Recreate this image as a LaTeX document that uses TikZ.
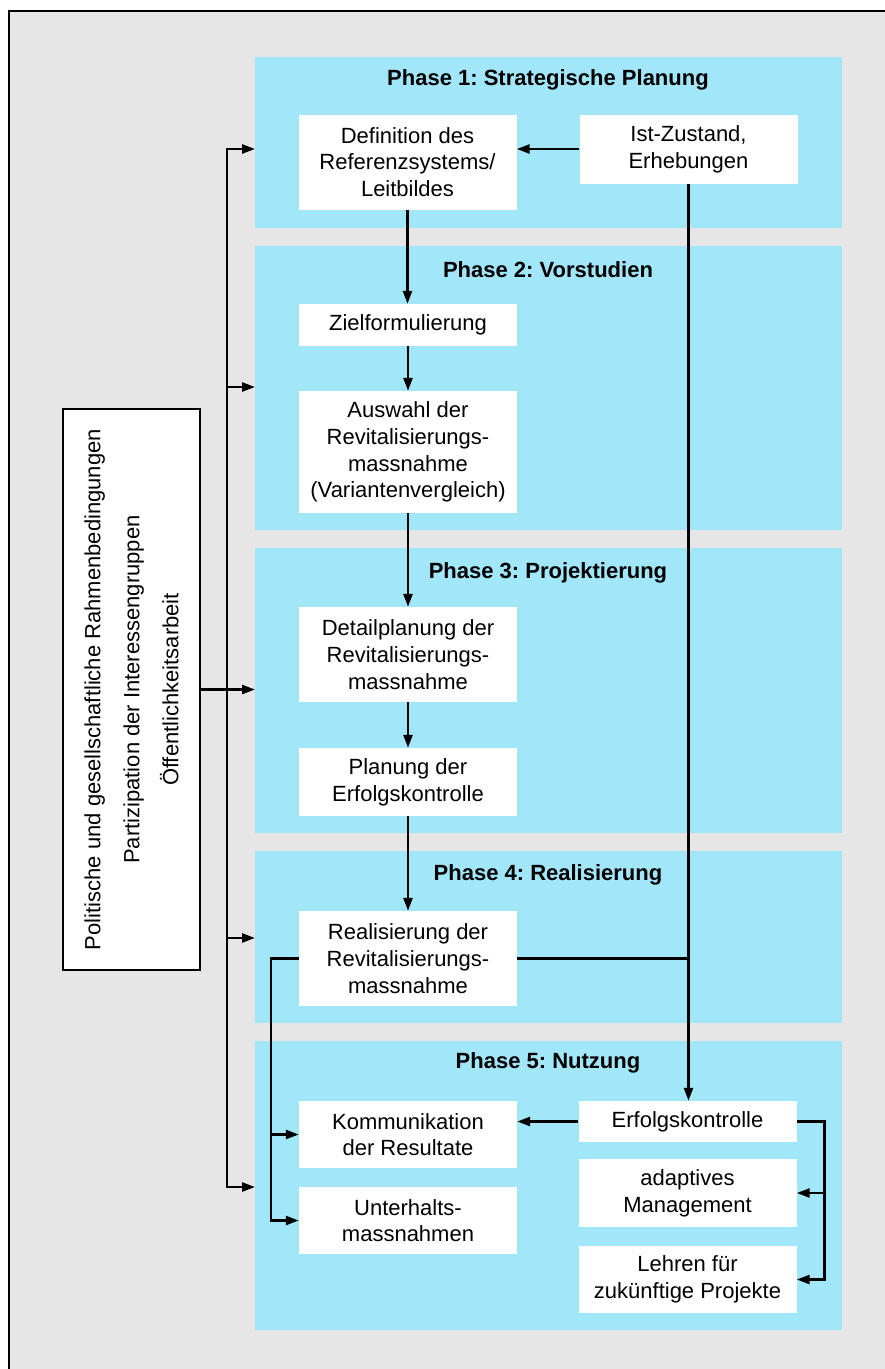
\documentclass[tikz,border=0pt]{standalone}
\usepackage{fontspec}
\setmainfont{Liberation Sans}
\usetikzlibrary{arrows.meta}
\definecolor{bandc}{HTML}{A2E6FA}
\definecolor{bgc}{HTML}{E6E6E6}
\frenchspacing
\begin{document}
\begin{tikzpicture}[x=1pt,y=-1pt,
  box/.style={fill=white, inner sep=0pt, minimum width=218pt, align=center,
    font=\fontsize{22}{26.7}\selectfont},
  band/.style={fill=bandc, draw=none, inner sep=0pt, anchor=north west, minimum width=587pt},
  ttl/.style={font=\bfseries\fontsize{22}{26}\selectfont, inner sep=0pt},
  con/.style={line width=2.5pt},
  tip/.style={-{Triangle[length=13pt,width=9pt]}},
  arr/.style={con, tip}]
\useasboundingbox (0,0) rectangle (885,1369);
\fill[bgc] (9,11) rectangle (885,1369);
\draw[line width=2.5pt] (9,1369) -- (9,11) -- (885,11);

% phase bands
\node[band, minimum height=171pt] (b1) at (255,57) {};
\node[band, minimum height=284pt] (b2) at (255,246) {};
\node[band, minimum height=285pt] (b3) at (255,548) {};
\node[band, minimum height=172pt] (b4) at (255,851) {};
\node[band, minimum height=289pt] (b5) at (255,1041) {};

% titles
\node[ttl] (t1) at (548,80) {Phase 1: Strategische Planung};
\node[ttl] (t2) at (548,270) {Phase 2: Vorstudien};
\node[ttl] (t3) at (548,573) {Phase 3: Projektierung};
\node[ttl] (t4) at (548,875) {Phase 4: Realisierung};
\node[ttl] (t5) at (548,1063) {Phase 5: Nutzung};

% boxes
\node[box, minimum height=95pt] (def) at (407.5,162) {Definition des\\Referenzsystems/\\Leitbildes};
\node[box, minimum height=69pt] (ist) at (688.5,149) {Ist-Zustand,\\Erhebungen};
\node[box, minimum height=42pt] (ziel) at (408,325) {Zielformulierung};
\node[box, minimum height=122pt] (ausw) at (408,452) {Auswahl der\\Revitalisierungs-\\massnahme\\(Variantenvergleich)};
\node[box, minimum height=95pt] (detail) at (408,654.5) {Detailplanung der\\Revitalisierungs-\\massnahme};
\node[box, minimum height=68pt] (plan) at (408,782) {Planung der\\Erfolgskontrolle};
\node[box, minimum height=95pt] (real) at (408,958.5) {Realisierung der\\Revitalisierungs-\\massnahme};
\node[box, minimum height=67pt] (komm) at (408,1134.5) {Kommunikation\\der Resultate};
\node[box, minimum height=67pt] (unter) at (408,1220.5) {Unterhalts-\\massnahmen};
\node[box, minimum height=41pt] (erfolg) at (687.5,1121.5) {Erfolgskontrolle};
\node[box, minimum height=68pt] (adapt) at (687.5,1193) {adaptives\\Management};
\node[box, minimum height=67pt] (lehren) at (687.5,1279.5) {Lehren für\\zukünftige Projekte};

% left box
\node[draw, line width=2.5pt, fill=white, minimum width=137pt, minimum height=561pt, inner sep=0pt] (lb) at (131.5,689.5) {};
\node[rotate=90, align=center, inner sep=0pt, font=\fontsize{22}{39}\selectfont] (lbt) at (lb.center)
  {Politische und gesellschaftliche Rahmenbedingungen\\Partizipation der Interessengruppen\\Öffentlichkeitsarbeit};

% main vertical distribution line
\coordinate (v1) at (227,149);
\coordinate (v2) at (227,387);
\coordinate (v4) at (227,938);
\coordinate (v5) at (227,1187);
\draw[con, {Triangle[length=13pt,width=9pt]}-{Triangle[length=13pt,width=9pt]}]
  (v1 -| b1.west) -- (v1) -- (v5) -- (v5 -| b5.west);
\draw[arr] (v2) -- (v2 -| b2.west);
\draw[arr] (v4) -- (v4 -| b4.west);
\draw[arr] (lb.east) -- (lb.east -| b3.west);

% flow
\draw[arr] (ist.west) -- (ist.west -| def.east);
\draw[arr] (def.south) -- (def.south |- ziel.north);
\draw[arr] (ziel) -- (ausw);
\draw[arr] (ausw) -- (detail);
\draw[arr] (detail) -- (plan);
\draw[arr] (plan) -- (real);
\draw[arr] (ist.south) -- (ist.south |- erfolg.north);
\draw[con] (real.east) -- (real.east -| ist.south);

\coordinate (rl) at ([xshift=-28pt]real.west);
\draw[arr] (real.west) -- (rl) |- (unter.west);
\draw[arr] (rl |- komm.west) -- (komm.west);

\draw[arr] (erfolg.west) -- (erfolg.west -| komm.east);
\coordinate (er) at ([xshift=28pt]erfolg.east);
\draw[arr] (erfolg.east) -- (er) |- (lehren.east);
\draw[arr] (er |- adapt.east) -- (adapt.east);
\end{tikzpicture}
\end{document}
